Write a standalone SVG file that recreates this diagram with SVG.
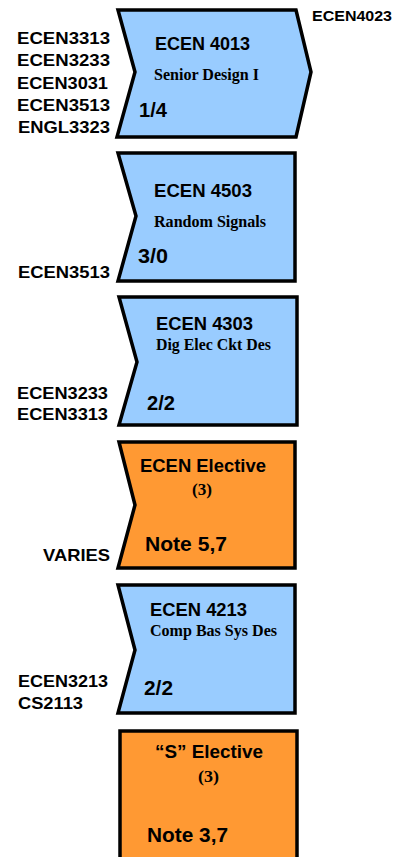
<svg xmlns="http://www.w3.org/2000/svg" width="403" height="857" viewBox="0 0 403 857">
<style>
.box{stroke:#000;stroke-width:3.5;stroke-linejoin:miter}
.blue{fill:#99CCFF}
.orange{fill:#FF9933}
.a{font-family:"Liberation Sans",Arial,sans-serif;font-weight:bold;fill:#000}
.t{font-family:"Liberation Serif","Times New Roman",serif;font-weight:bold;fill:#000}
.lbl{font-size:16.5px}
.ttl{font-size:18.5px}
.sub{font-size:16px}
.par{font-size:17px}
.num{font-size:20px}
</style>
<rect width="403" height="857" fill="#fff"/>
<g id="connectors"></g>

<g id="ecen4013">
<polygon class="box blue" points="118,10 296,10 311,72 296,137 117,137 135,72"/>
<text class="a ttl" x="155" y="50" textLength="95" lengthAdjust="spacingAndGlyphs">ECEN 4013</text>
<text class="t sub" x="154" y="80" textLength="105" lengthAdjust="spacingAndGlyphs">Senior Design I</text>
<text class="a num" x="139" y="117" textLength="28" lengthAdjust="spacingAndGlyphs">1/4</text>
<text class="a lbl" x="17" y="44" textLength="93" lengthAdjust="spacingAndGlyphs">ECEN3313</text>
<text class="a lbl" x="17" y="66" textLength="93" lengthAdjust="spacingAndGlyphs">ECEN3233</text>
<text class="a lbl" x="17" y="89" textLength="91" lengthAdjust="spacingAndGlyphs">ECEN3031</text>
<text class="a lbl" x="17" y="111" textLength="93" lengthAdjust="spacingAndGlyphs">ECEN3513</text>
<text class="a lbl" x="18" y="133" textLength="92" lengthAdjust="spacingAndGlyphs">ENGL3323</text>
<text class="a" x="312" y="21" font-size="15" textLength="80" lengthAdjust="spacingAndGlyphs">ECEN4023</text>
</g>

<g id="ecen4503">
<polygon class="box blue" points="118,153 295,153 295,281 118,281 136,216"/>
<text class="a ttl" x="154" y="197" textLength="98" lengthAdjust="spacingAndGlyphs">ECEN 4503</text>
<text class="t sub" x="154" y="227" textLength="112" lengthAdjust="spacingAndGlyphs">Random Signals</text>
<text class="a num" x="138" y="263" textLength="30" lengthAdjust="spacingAndGlyphs">3/0</text>
<text class="a lbl" x="18" y="278" textLength="92" lengthAdjust="spacingAndGlyphs">ECEN3513</text>
</g>

<g id="ecen4303">
<polygon class="box blue" points="119,297 297,297 297,425 119,425 137,362"/>
<text class="a ttl" x="156" y="330" textLength="97" lengthAdjust="spacingAndGlyphs">ECEN 4303</text>
<text class="t sub" x="156" y="350" textLength="115" lengthAdjust="spacingAndGlyphs">Dig Elec Ckt Des</text>
<text class="a num" x="147" y="410" textLength="28" lengthAdjust="spacingAndGlyphs">2/2</text>
<text class="a lbl" x="17" y="399" textLength="91" lengthAdjust="spacingAndGlyphs">ECEN3233</text>
<text class="a lbl" x="17" y="420" textLength="91" lengthAdjust="spacingAndGlyphs">ECEN3313</text>
</g>

<g id="ecen-elective">
<polygon class="box orange" points="119,442 295,442 295,568 118,568 135,505"/>
<text class="a ttl" x="140" y="472" textLength="126" lengthAdjust="spacingAndGlyphs">ECEN Elective</text>
<text class="t par" x="192" y="495" textLength="20" lengthAdjust="spacingAndGlyphs">(3)</text>
<text class="a num" x="145" y="551" textLength="82" lengthAdjust="spacingAndGlyphs">Note 5,7</text>
<text class="a lbl" x="43" y="561" textLength="67" lengthAdjust="spacingAndGlyphs">VARIES</text>
</g>

<g id="ecen4213">
<polygon class="box blue" points="118,585 295,585 295,713 118,713 135,650"/>
<text class="a ttl" x="150" y="616" textLength="97" lengthAdjust="spacingAndGlyphs">ECEN 4213</text>
<text class="t sub" x="150" y="636" textLength="127" lengthAdjust="spacingAndGlyphs">Comp Bas Sys Des</text>
<text class="a num" x="144" y="695" textLength="29" lengthAdjust="spacingAndGlyphs">2/2</text>
<text class="a lbl" x="18" y="687" textLength="90" lengthAdjust="spacingAndGlyphs">ECEN3213</text>
<text class="a lbl" x="18" y="709" textLength="65" lengthAdjust="spacingAndGlyphs">CS2113</text>
</g>

<g id="s-elective">
<rect class="box orange" x="120" y="731" width="177" height="140"/>
<text class="a ttl" x="155" y="758" textLength="108" lengthAdjust="spacingAndGlyphs">“S” Elective</text>
<text class="t par" x="198" y="782" textLength="21" lengthAdjust="spacingAndGlyphs">(3)</text>
<text class="a num" x="147" y="842" textLength="81" lengthAdjust="spacingAndGlyphs">Note 3,7</text>
</g>
</svg>
